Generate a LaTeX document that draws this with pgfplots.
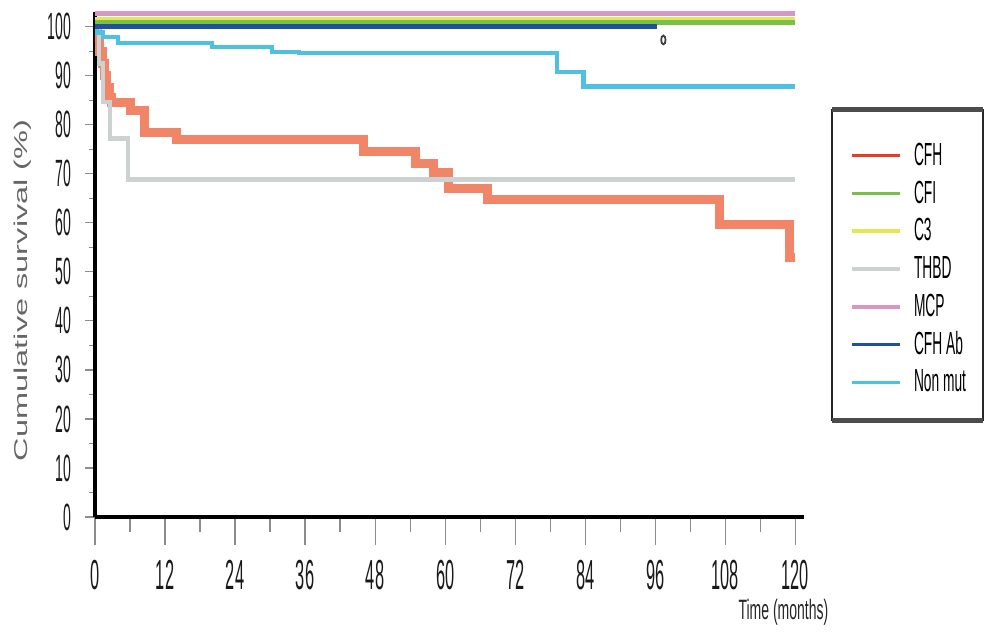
\documentclass[border=0pt]{standalone}
\usepackage{pgfplots}
\pgfplotsset{compat=1.18}
\usepackage{fontspec}
\setmainfont{Liberation Sans}
\newfontfamily\xtickfont{Liberation Sans}[FakeStretch=0.39]
\newfontfamily\ytickfont{Liberation Sans}[FakeStretch=0.37]
\newfontfamily\narrowfont{Liberation Sans}[FakeStretch=0.43]
\newfontfamily\xlabfont{Liberation Sans}[FakeStretch=0.5]
\newfontfamily\ylabfont{Liberation Sans}[FakeStretch=1.75]
\definecolor{cfhband}{RGB}{240,133,103}
\definecolor{cfhleg}{RGB}{226,62,40}
\definecolor{cfi}{RGB}{122,192,70}
\definecolor{cthree}{RGB}{228,230,84}
\definecolor{thbd}{RGB}{204,209,209}
\definecolor{mcp}{RGB}{214,150,198}
\definecolor{cfhab}{RGB}{32,80,158}
\definecolor{nonmut}{RGB}{78,193,225}
\begin{document}
\begin{tikzpicture}
\useasboundingbox (-47.5pt,-57.5pt) rectangle (444.5pt,258.5pt);
% x ticks axis
\begin{axis}[
  at={(0,0)}, anchor=south west, scale only axis,
  width=354.5pt, height=252.5pt,
  xmin=0, xmax=121.5, ymin=0, ymax=103,
  axis y line=none, axis x line*=bottom,
  axis line style={line width=2pt, black},
  xtick={0,12,...,120}, minor xtick={6,18,...,114},
  major tick length=14pt, minor tick length=7.5pt, tick align=outside,
  tick style={black!45, line width=0.6pt},
  /pgf/number format/assume math mode=true,
  xticklabel style={font=\fontsize{21}{22}\xtickfont, color=black!90, yshift=-4pt},
  xlabel={Time (months)},
  xlabel style={at={(axis description cs:0.971,-0.188)}, anchor=center,
    font=\fontsize{14}{15}\xlabfont, color=black!85},
]
\addplot[draw=none, forget plot] coordinates {(0,0)};
\end{axis}
% main axis
\begin{axis}[
  at={(0,0)}, anchor=south west, scale only axis,
  width=354.5pt, height=252.5pt,
  xmin=0, xmax=121.5, ymin=0, ymax=103,
  axis x line*=bottom, axis y line*=left,
  axis line style={line width=2pt, black},
  xtick=\empty,
  ytick={0,10,...,100}, minor ytick={5,15,...,95},
  major tick length=5pt, minor tick length=3pt, tick align=outside,
  tick style={black!45, line width=0.6pt},
  /pgf/number format/assume math mode=true,
  yticklabel style={font=\fontsize{19}{20}\ytickfont, color=black!90, xshift=-3.5pt},
  ylabel={Cumulative survival (\%)},
  ylabel style={at={(axis description cs:-0.1015,0.449)}, anchor=center,
    font=\fontsize{9.3}{10}\ylabfont, color=black!60},
  legend style={at={(axis description cs:1.0649,0.754)}, anchor=north west,
    draw=none, fill=none, inner sep=0pt, row sep=0pt,
    font=\fontsize{16}{17}\narrowfont,
    nodes={inner sep=0pt, minimum height=18.9pt},
    /tikz/every odd column/.append style={column sep=6pt}},
  legend cell align=left,
  legend image code/.code={\draw[#1] (0pt,0pt) -- (24pt,0pt);},
]
\addlegendimage{cfhleg, line width=1.8pt}
\addlegendentry{CFH}
\addlegendimage{cfi, line width=1.8pt}
\addlegendentry{CFI}
\addlegendimage{cthree, line width=1.8pt}
\addlegendentry{C3}
\addlegendimage{thbd, line width=1.8pt}
\addlegendentry{THBD}
\addlegendimage{mcp, line width=1.8pt}
\addlegendentry{MCP}
\addlegendimage{cfhab, line width=1.8pt}
\addlegendentry{CFH Ab}
\addlegendimage{nonmut, line width=1.8pt}
\addlegendentry{Non mut}
% CFH
\addplot[const plot, cfhband, line width=4.5pt, forget plot] coordinates {
(0,100)(0.4,97.5)(0.8,95)(1.2,92.5)(1.6,90)(2.0,87.5)(2.4,85.5)(2.9,84.5)
(6,83)(8.5,78.4)(14,77)(46,74.5)(55,72.2)(58,70.2)(60.5,67.1)(67.2,64.7)
(107,59.6)(119,52.9)(120,52.9)};
% THBD
\addplot[const plot, thbd, line width=2.2pt, forget plot] coordinates {
(0,100)(0.7,92.5)(1.4,84.6)(2.6,77.2)(5.7,68.8)(120,68.8)};
% Non mut
\addplot[const plot, nonmut, line width=2.2pt, forget plot] coordinates {
(0,100)(0.3,98.8)(1.4,97.9)(3.9,96.7)(20.1,95.9)(30.3,94.9)(35,94.6)
(79.2,90.8)(83.7,87.8)(120,87.8)};
% C3
\addplot[cthree, line width=2.5pt, forget plot] coordinates {(0,101.5)(120,101.5)};
% CFI
\addplot[cfi, line width=2.5pt, forget plot] coordinates {(0,100.8)(120,100.8)};
% CFH Ab
\addplot[cfhab, line width=2.5pt, forget plot] coordinates {(0,100.1)(96.3,100.1)};
% MCP
\addplot[mcp, line width=2.5pt, forget plot] coordinates {(0,102.6)(120,102.6)};
% censor mark
\addplot[only marks, mark=o, mark size=2.2pt, black!75,
  mark options={xscale=0.5, line width=0.9pt}, forget plot] coordinates {(97.4,97.3)};
\end{axis}
\draw[line width=0.9pt, black!85] (368.5pt,48.5pt) rectangle (443.8pt,203.5pt);
\draw[line width=2.5pt, black!70] (368.5pt,203.5pt) -- (443.8pt,203.5pt);
\draw[line width=2.5pt, black!70] (368.5pt,48.5pt) -- (443.8pt,48.5pt);
\end{tikzpicture}
\end{document}
